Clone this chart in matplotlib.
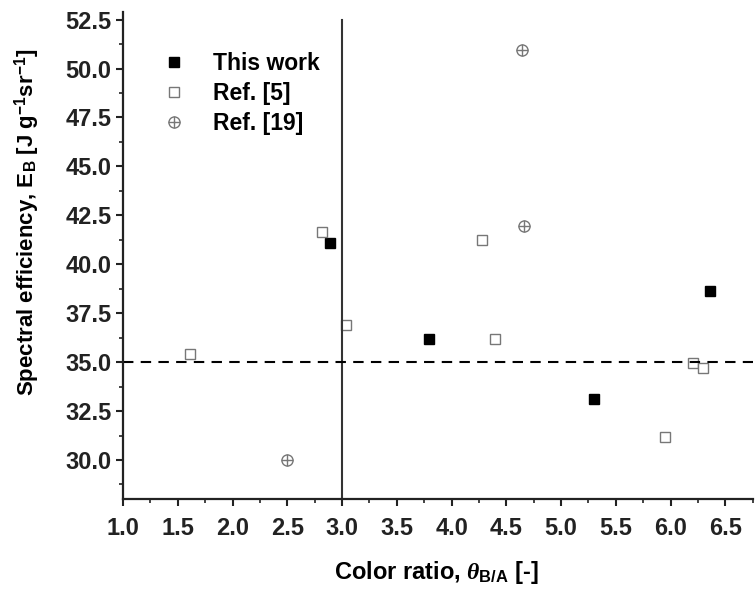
import matplotlib.pyplot as plt
from matplotlib.ticker import MultipleLocator

plt.rcParams['font.family'] = ['Liberation Sans', 'DejaVu Sans']
plt.rcParams['font.weight'] = 'bold'
plt.rcParams['mathtext.fontset'] = 'custom'
plt.rcParams['mathtext.rm'] = 'Liberation Sans:bold'
plt.rcParams['mathtext.it'] = 'Liberation Serif:italic'
plt.rcParams['mathtext.bf'] = 'Liberation Sans:bold'

# Данные
this_x = [2.89, 3.79, 5.30, 6.36]
this_y = [41.1, 36.2, 33.1, 38.65]

ref5_x = [1.61, 2.82, 3.04, 4.28, 4.40, 5.95, 6.20, 6.30]
ref5_y = [35.4, 41.65, 36.9, 41.25, 36.2, 31.2, 34.95, 34.7]

ref19_x = [2.50, 4.64, 4.66]
ref19_y = [30.0, 50.95, 41.97]

vline_x = 3.0
hline_y = 35.0

fig = plt.figure(figsize=(7.55, 5.90), dpi=100)
ax = fig.add_axes([0.163, 0.154, 0.834, 0.826])

grey = '#777777'
h1, = ax.plot(this_x, this_y, 's', color='black', markersize=6.5, linestyle='none')
h2, = ax.plot(ref5_x, ref5_y, 's', markerfacecolor='white', markeredgecolor=grey,
              markeredgewidth=1.0, markersize=7, linestyle='none')
h3a, = ax.plot(ref19_x, ref19_y, 'o', markerfacecolor='white', markeredgecolor=grey,
               markeredgewidth=1.0, markersize=8, linestyle='none')
h3b, = ax.plot(ref19_x, ref19_y, '+', color=grey, markeredgewidth=1.0,
               markersize=8, linestyle='none')

ax.axvline(vline_x, color='#333333', linewidth=1.5, ymax=(52.5 - 28) / (52.9 - 28))
ax.axhline(hline_y, color='black', linewidth=1.5, linestyle=(0, (5, 3.5)))

ax.set_xlim(1.0, 6.75)
ax.set_ylim(28.0, 52.9)
ax.xaxis.set_major_locator(MultipleLocator(0.5))
ax.xaxis.set_minor_locator(MultipleLocator(0.25))
ax.yaxis.set_major_locator(MultipleLocator(2.5))
ax.yaxis.set_minor_locator(MultipleLocator(1.25))
ax.xaxis.set_major_formatter(plt.FormatStrFormatter('%.1f'))
ax.yaxis.set_major_formatter(plt.FormatStrFormatter('%.1f'))

for s in ['top', 'right']:
    ax.spines[s].set_visible(False)
for s in ['left', 'bottom']:
    ax.spines[s].set_linewidth(1.6)
    ax.spines[s].set_color('#222222')

ax.tick_params(which='major', direction='out', length=5, width=1.5, labelsize=17, colors='#222222')
ax.tick_params(axis='x', which='major', pad=8)
ax.tick_params(which='minor', direction='out', length=3, width=1.2, colors='#222222')

ax.set_xlabel(r'Color ratio, $\theta_{\mathbf{B/A}}$ [-]', fontsize=17, fontweight='bold')
ax.set_ylabel(r'Spectral efficiency, E$_\mathbf{B}$ [J g$^\mathbf{-1}$sr$^\mathbf{-1}$]',
              fontsize=16, fontweight='bold')
ax.xaxis.set_label_coords(0.498, -0.122)
ax.yaxis.set_label_coords(-0.129, 0.569)

ax.legend([h1, h2, (h3a, h3b)], ['This work', 'Ref. [5]', 'Ref. [19]'],
          loc='upper left', bbox_to_anchor=(0.03, 0.96), frameon=False,
          fontsize=16.5, handletextpad=1.2, labelspacing=0.3, handlelength=1.0)

plt.savefig('out.png', dpi=100)
